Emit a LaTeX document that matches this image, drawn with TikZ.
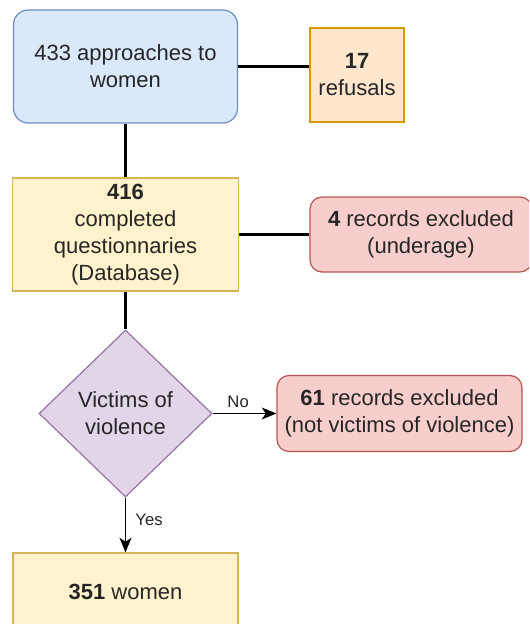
\documentclass[tikz,border=0pt]{standalone}
\usepackage{fontspec}
\setmainfont{Liberation Sans}
\usetikzlibrary{shapes.geometric,arrows.meta}
\definecolor{blueF}{HTML}{DAE8FC}\definecolor{blueD}{HTML}{6C8EBF}
\definecolor{orF}{HTML}{FFE6CC}\definecolor{orD}{HTML}{D79B00}
\definecolor{yeF}{HTML}{FFF2CC}\definecolor{yeD}{HTML}{D6B656}
\definecolor{reF}{HTML}{F8CECC}\definecolor{reD}{HTML}{B85450}
\definecolor{puF}{HTML}{E1D5E7}\definecolor{puD}{HTML}{9673A6}
\definecolor{txt}{HTML}{262626}
\tikzset{
  box/.style={draw, line width=0.9pt, align=center, inner sep=0pt, text=txt,
    font=\fontsize{16.5}{20.3}\selectfont},
  link/.style={line width=2.2pt, black},
  arr/.style={line width=0.9pt, black, -{Stealth[length=11pt,width=9pt,inset=3pt]}},
  lbl/.style={font=\fontsize{12.5}{15}\selectfont, text=txt, inner sep=1pt}
}
\begin{document}
\begin{tikzpicture}[x=0.75pt,y=-0.75pt]
\useasboundingbox (0,0) rectangle (529,624);
\clip (0,0) rectangle (529,624);
\node[box, fill=blueF, draw=blueD, rounded corners=11pt, minimum width=168pt, minimum height=84.75pt] (b1) at (125.5,66.5) {433 approaches to\\women};
\node[box, fill=orF, draw=orD, minimum width=70.5pt, minimum height=70.5pt] (b17) at (357,75) {\textbf{17}\\refusals};
\node[box, fill=yeF, draw=yeD, minimum width=169.5pt, minimum height=84.75pt] (b2) at (125.5,234.5) {\textbf{416}\\completed\\questionnaries\\(Database)};
\node[box, fill=reF, draw=reD, rounded corners=9pt, minimum width=166.5pt, minimum height=56.25pt] (b4) at (421,234.5) {\textbf{4} records excluded\\(underage)};
\node[box, shape=diamond, fill=puF, draw=puD, minimum width=129.75pt, minimum height=125.25pt] (dv) at (125.5,413.5) {Victims of\\violence};
\node[box, fill=reF, draw=reD, rounded corners=9pt, minimum width=183.75pt, minimum height=57pt] (b61) at (399.5,413.5) {\textbf{61} records excluded\\(not victims of violence)};
\node[box, fill=yeF, draw=yeD, minimum width=168.75pt, minimum height=58.5pt] (b351) at (125.5,592) {\textbf{351} women};
\draw[link] (b1.east) -- (b1.east -| b17.west);
\draw[link] (b1.south) -- (b1.south |- b2.north);
\draw[link] (b2.east) -- (b4.west);
\draw[link] (b2.south) -- (dv.north);
\draw[arr] (dv.east) -- node[lbl, above=3pt, pos=0.4] {No} (b61.west);
\draw[arr] (dv.south) -- node[lbl, right=6pt, pos=0.4] {Yes} (b351.north);
\end{tikzpicture}
\end{document}
